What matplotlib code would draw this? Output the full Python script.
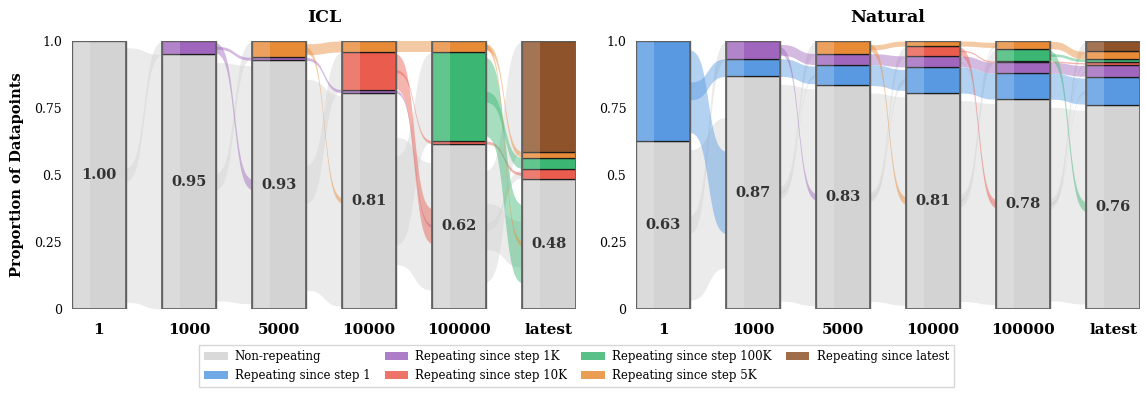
import numpy as np
import matplotlib
matplotlib.use('Agg')
import matplotlib.pyplot as plt
from matplotlib.patches import Patch, Rectangle

plt.rcParams['font.family'] = ['DejaVu Serif']

steps = ['1', '1000', '5000', '10000', '100000', 'latest']
categories = ['Non-repeating', 'Repeating since step 1', 'Repeating since step 1K',
              'Repeating since step 10K', 'Repeating since step 100K',
              'Repeating since step 5K', 'Repeating since latest']
colors = ['#d3d3d3', '#5899e2', '#a066bd', '#e95c4e', '#3cb773', '#e88b37', '#8e532a']

# ICL - proportion per checkpoint
icl_nonrep = [1.000, 0.950, 0.928, 0.807, 0.616, 0.484]
icl_since_1 = [0, 0, 0, 0, 0, 0]
icl_since_1k = [0, 0.050, 0.011, 0.011, 0, 0]
icl_since_10k = [0, 0, 0, 0.141, 0.011, 0.040]
icl_since_100k = [0, 0, 0, 0, 0.332, 0.040]
icl_since_5k = [0, 0, 0.061, 0.041, 0.041, 0.022]
icl_since_latest = [0, 0, 0, 0, 0, 0.414]

# Natural
nat_nonrep = [0.627, 0.868, 0.834, 0.806, 0.783, 0.760]
nat_since_1 = [0.373, 0.066, 0.078, 0.097, 0.097, 0.106]
nat_since_1k = [0, 0.066, 0.041, 0.042, 0.040, 0.045]
nat_since_10k = [0, 0, 0, 0.036, 0.005, 0.012]
nat_since_100k = [0, 0, 0, 0, 0.046, 0.010]
nat_since_5k = [0, 0, 0.047, 0.019, 0.029, 0.028]
nat_since_latest = [0, 0, 0, 0, 0, 0.039]

icl = np.array([icl_nonrep, icl_since_1, icl_since_1k, icl_since_10k,
                icl_since_100k, icl_since_5k, icl_since_latest])
nat = np.array([nat_nonrep, nat_since_1, nat_since_1k, nat_since_10k,
                nat_since_100k, nat_since_5k, nat_since_latest])

BW = 0.6  # bar width


def sig(t, k=9.0):
    s = 1 / (1 + np.exp(-k * (t - 0.5)))
    s0 = 1 / (1 + np.exp(k * 0.5))
    return (s - s0) / (1 - 2 * s0)


def seg_centers(col):
    bottoms = np.concatenate([[0], np.cumsum(col)[:-1]])
    return bottoms + col / 2


def get_flows(a, b):
    # colored categories keep what they can, the rest goes to / comes from non-repeating
    flows = []
    new_total = 0
    for c in range(1, len(a)):
        stay = min(a[c], b[c])
        if stay > 0:
            flows.append((c, c, stay))
        if a[c] - stay > 1e-9:
            flows.append((c, 0, a[c] - stay))
        if b[c] - stay > 1e-9:
            flows.append((0, c, b[c] - stay))
            new_total += b[c] - stay
    flows.append((0, 0, a[0] - new_total))
    return flows


def draw_panel(ax, data, title):
    n = data.shape[1]
    t = np.linspace(0, 1, 80)
    for i in range(n - 1):
        a, b = data[:, i], data[:, i + 1]
        ca, cb = seg_centers(a), seg_centers(b)
        fl = get_flows(a, b)
        # gray flows first, colored on top
        fl.sort(key=lambda f: f[0] != 0)
        x = i + BW / 2 + t * (1 - BW)
        for src, dst, w in fl:
            s = sig(t)
            yc = ca[src] + (cb[dst] - ca[src]) * s
            ax.fill_between(x, yc - w / 2, yc + w / 2, color=colors[src],
                            alpha=0.45, lw=0, zorder=1)

    for i in range(n):
        col = data[:, i]
        bottom = 0
        for c in range(len(col)):
            if col[c] <= 0:
                continue
            ax.bar(i, col[c], BW, bottom=bottom, color=colors[c],
                   edgecolor='#1a1a1a', linewidth=0.9, zorder=3)
            bottom += col[c]
        # lighter strip on the left third
        ax.add_patch(Rectangle((i - BW / 2, 0), BW / 3, 1, facecolor='white',
                               alpha=0.2, lw=0, zorder=4))
        ax.add_patch(Rectangle((i - BW / 2, 0), BW, 1, facecolor='none',
                               edgecolor='#666666', lw=1.3, zorder=5))
        ax.text(i, col[0] / 2, '{:.2f}'.format(col[0]), ha='center', va='center',
                fontsize=10.5, fontweight='bold', color='#333333', zorder=6)

    ax.set_xlim(-BW / 2, n - 1 + BW / 2)
    ax.set_ylim(0, 1)
    ax.set_xticks(range(n))
    ax.set_xticklabels(steps, fontsize=11, fontweight='bold')
    ax.set_yticks([0, 0.25, 0.5, 0.75, 1.0])
    ax.set_yticklabels(['0', '0.25', '0.5', '0.75', '1.0'], fontsize=9)
    ax.tick_params(axis='both', length=0)
    ax.tick_params(axis='y', pad=7)
    ax.tick_params(axis='x', pad=10)
    for sp in ax.spines.values():
        sp.set_visible(False)
    ax.set_title(title, fontsize=12.5, fontweight='bold', pad=14)


fig = plt.figure(figsize=(11.46, 3.97), dpi=100)
ax1 = fig.add_axes([0.0628, 0.2217, 0.4398, 0.675])
ax2 = fig.add_axes([0.5550, 0.2217, 0.4398, 0.675])

draw_panel(ax1, icl, 'ICL')
draw_panel(ax2, nat, 'Natural')
ax1.set_ylabel('Proportion of Datapoints', fontsize=10.5, fontweight='bold', labelpad=8)

handles = [Patch(facecolor=c, alpha=0.85, label=l) for c, l in zip(colors, categories)]
leg = fig.legend(handles=handles, loc='lower center', bbox_to_anchor=(0.503, 0.01),
                 ncol=4, fontsize=8.5, frameon=True, fancybox=False,
                 edgecolor='#cccccc', handlelength=2.0, columnspacing=1.2,
                 labelspacing=0.5, borderpad=0.45, handletextpad=0.6)

fig.savefig('out.png', dpi=100)
